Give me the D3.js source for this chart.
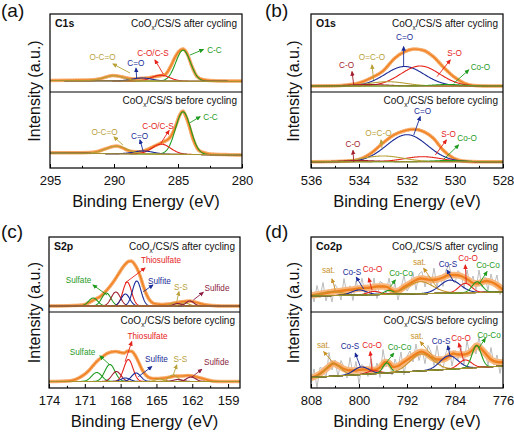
<!DOCTYPE html>
<html><head><meta charset="utf-8">
<script src="https://cdn.jsdelivr.net/npm/d3@7"></script>
<style>body{margin:0;background:#fff}svg{display:block}</style>
</head><body><svg id="c" width="514" height="433"></svg>
<script>
// ---------------- DATA ----------------
const panelTags = ['(a)','(b)','(c)','(d)'];
const coreLevels = ['C1s','O1s','S2p','Co2p'];
const sampleNames = ['after cycling','before cycling'];
const xTitle = 'Binding Energy (eV)';
const yTitle = 'Intensity (a.u.)';

const aDomain = [295,280], aTicks = [295,290,285,280], aMinor = [292.5,287.5,282.5];
const bDomain = [536,528], bTicks = [536,534,532,530,528], bMinor = [535,533,531,529];
const cDomain = [174,158], cTicks = [174,171,168,165,162,159], cMinor = [172.5,169.5,166.5,163.5,160.5];
const dDomain = [808,776], dTicks = [808,800,792,784,776], dMinor = [804,796,788,780];

// envelopes [BE, intensity]
const aTopEnv = [[295,11.5],[293,11.8],[292,12],[291.2,13],[290.6,15],[290.1,16.5],[289.5,15.5],[289,14],[288.5,13],[288,13.5],[287.5,14],[287,15],[286.5,16],[286,17.5],[285.6,25],[285.2,35.5],[284.9,41],[284.6,43],[284.3,38.7],[283.9,25.3],[283.5,15.3],[283,12.3],[282.5,11.5],[281,11],[280,11]];
const aBotEnv = [[295,15.3],[293,15.3],[292,15.5],[291.3,16.5],[290.6,19.5],[290.1,21.5],[289.8,22],[289.3,20],[289,18],[288.5,16.5],[288,16.3],[287.5,18],[287,21],[286.5,24],[286,27],[285.7,29.5],[285.5,33],[285.1,45],[284.9,52],[284.63,57],[284.4,52],[284.2,45],[283.8,28],[283.4,18],[283,15.5],[282.5,14],[281,13.3],[280,13]];
const bTopEnv = [[536,6],[535,6.2],[534.5,7],[534,9],[533.5,14],[533,21],[532.5,34],[532.1,40.3],[531.7,43],[531.3,41.5],[530.9,35.3],[530.5,25.3],[530.05,15.3],[529.6,8.7],[529.2,6.5],[528.5,6],[528,6]];
const bBotEnv = [[536,6.3],[535,6.5],[534.5,7],[534.1,8],[533.5,14.7],[533.1,23],[532.55,33],[532.1,37.3],[531.7,38.7],[531.3,36.3],[530.9,29.7],[530.5,18],[530.05,9.7],[529.6,6.8],[529,6.3],[528,6.3]];
const cTopEnv = [[174,6],[172,6.5],[171.2,7],[170.6,9.7],[170.1,13],[169.7,15.5],[169.3,20],[168.9,25.5],[168.5,32],[168.1,39.5],[167.8,45],[167.55,48.5],[167.35,50.5],[167.1,51],[166.85,48],[166.6,43],[166.35,35.5],[166.1,26],[165.85,18],[165.6,12.5],[165.3,9],[165,8],[164.5,7.5],[164,8],[163.5,9],[163,10],[162.5,10.8],[162.2,11],[161.8,10],[161.4,8.7],[161,7.5],[160.3,6.5],[159.5,6],[158,6]];
const cBotEnv = [[174,6.5],[172.5,7],[172,7.7],[171.6,9.5],[171.1,13],[170.7,17],[170.3,22.5],[170,26.5],[169.6,30.5],[169.2,34],[168.8,36],[168.4,36.5],[168,35.5],[167.7,35],[167.4,37],[167.05,36.5],[166.8,33],[166.5,26],[166.25,19.5],[166,14.5],[165.7,11],[165.3,9.5],[164.8,9.5],[164.3,10],[163.8,11],[163.4,12],[162.9,12],[162.3,12.5],[161.8,11.5],[161.3,10],[160.8,8.3],[160.2,6.8],[159.5,6.5],[158,6.5]];
const dTopEnv = [[808,16.5],[807,17.5],[806,18.5],[805,19.5],[804,20.5],[803,21],[802,22],[801,22.5],[800,23.5],[799,24],[798,24.5],[797,25.5],[796,25.5],[795.3,25],[794.6,22],[794,20.5],[793.3,21.5],[792.5,25],[791.5,28.5],[790.5,32],[789.7,33.5],[789,33],[788,32],[787,32.5],[786,34.5],[785,37],[784,37],[783,36],[782,33],[781,29],[780.3,28.5],[779.5,30],[778.8,31],[778,30],[777,27],[776,22]];
const dBotEnv = [[808,10],[807,12.5],[806,16.5],[805,21.5],[804.3,24.5],[803.5,22.5],[802.5,19],[801.5,17.5],[800.5,17.5],[799.5,18.5],[798.5,18.5],[797.5,18],[796.5,20.5],[795.6,26],[795,25],[794.3,21],[793.5,22],[792.5,26],[791.5,30],[790.5,34],[789.6,36.3],[788.8,34.5],[788,31],[787,28.5],[786,28.5],[785.3,30.5],[784.3,34.5],[783.5,33.5],[782.5,33.5],[781.7,35],[781,38.5],[780.4,42.5],[779.6,39],[779,35],[778,28.5],[777,26],[776,25.5]];

// raw (noisy) Co2p data
const dTopRaw = [[808,22.5],[807.5,10],[807,26.5],[806.5,14],[806,29.5],[805.5,11],[805,22.5],[804.5,10],[804,27.5],[803.5,22.8],[803,12],[802.5,33.5],[802,17],[801.5,26.2],[801,11.5],[800.5,31],[800,20.5],[799.5,33.8],[799,18],[798.5,25.2],[798,16.5],[797.5,34],[797,13.5],[796.5,30.5],[796,28.5],[795.5,18.3],[795,34],[794.5,17.8],[794,28.5],[793.5,12],[793,24.5],[792.5,36],[792,21],[791.5,25.5],[791,39.5],[790.5,22],[790,38],[789.5,40.5],[789,25],[788.5,36.5],[788,27],[787.5,44],[787,25.5],[786.5,36.5],[786,25.5],[785.5,42],[785,47],[784.5,33],[784,29],[783.5,41.5],[783,38],[782.5,23.5],[782,42],[781.5,28],[781,36],[780.5,22.5],[780,42],[779.5,25],[779,35],[778.5,21.8],[778,38],[777.5,26.5],[777,37],[776.5,17.5],[776,25]];
const dBotRaw = [[808,5],[807.5,19],[807,0.5],[806.5,20.5],[806,19.5],[805.5,10],[805,35.5],[804.5,18],[804,28],[803.5,11.5],[803,27.5],[802.5,21],[802,10],[801.5,30.5],[801,13.3],[800.5,26.5],[800,4],[799.5,23.5],[799,19.7],[798.5,11.5],[798,29.2],[797.5,15],[797,25],[796.5,10.5],[796,38.5],[795.5,21],[795,28],[794.5,13],[794,29],[793.5,20],[793,36],[792.5,13],[792,32],[791.5,37],[791,26],[790.5,44],[790,27.5],[789.5,38.3],[789,24.3],[788.5,42.5],[788,36],[787.5,22.5],[787,42.5],[786.5,24.3],[786,19.5],[785.5,35.5],[785,42.5],[784.5,22],[784,37.5],[783.5,28.5],[783,41.3],[782.5,23.5],[782,47],[781.5,32.5],[781,42.5],[780.5,34],[780,51.5],[779.5,32.5],[779,37],[778.5,22.5],[778,40.5],[777.5,23],[777,33],[776.5,14.5],[776,30.5]];

// backgrounds (two end points)
const aTopBg = [[295,11.5],[280,10.5]], aBotBg = [[295,15],[280,13]];
const bTopBg = [[536,6],[528,6]], bBotBg = [[536,6.3],[528,6.3]];
const cTopBg = [[174,6],[158,6]], cBotBg = [[174,6.5],[158,6.5]];
const dTopBg = [[808,16],[776,20]], dBotBg = [[808,10.5],[776,22]];

// fitted peaks: centre (eV), height, FWHM (eV)
const aTopPeaks = [{k:'green',c:284.6,h:31,w:1.35},{k:'red',c:286.35,h:6,w:1.6},{k:'blue',c:287.8,h:3,w:1.8},{k:'olive',c:290.0,h:5,w:1.9}];
const aBotPeaks = [{k:'green',c:284.6,h:42.5,w:1.4},{k:'red',c:286.3,h:10,w:1.7},{k:'blue',c:287.7,h:3,w:1.8},{k:'olive',c:289.8,h:7.5,w:2.0}];
const bTopPeaks = [{k:'blue',c:532.1,h:19.5,w:1.9},{k:'red',c:531.45,h:20,w:1.9},{k:'olive',c:532.8,h:4.3,w:1.8},{k:'darkred',c:533.6,h:1.5,w:1.8},{k:'green',c:530.3,h:1.5,w:1.4}];
const bBotPeaks = [{k:'blue',c:532.0,h:27,w:2.0},{k:'red',c:531.35,h:5,w:1.8},{k:'olive',c:533.0,h:5.7,w:2.0},{k:'darkred',c:534.0,h:1.2,w:1.6},{k:'green',c:530.3,h:1.2,w:1.4}];
const cTopPeaks = [{k:'green',c:170.3,h:8,w:0.9},{k:'green',c:169.2,h:13,w:0.9},{k:'darkred',c:168.4,h:14,w:0.9},{k:'red',c:167.45,h:24,w:0.85},{k:'blue',c:167.6,h:12,w:0.85},{k:'blue',c:166.65,h:25,w:0.85},{k:'olive',c:163.5,h:2.7,w:0.8},{k:'olive',c:162.6,h:3,w:0.8},{k:'brown',c:163.2,h:2.5,w:0.8},{k:'brown',c:162.2,h:5,w:0.8}];
const cBotPeaks = [{k:'green',c:170.0,h:9,w:1.0},{k:'green',c:168.9,h:17,w:1.0},{k:'darkred',c:168.35,h:10,w:0.9},{k:'red',c:167.35,h:22,w:0.9},{k:'blue',c:167.6,h:3.5,w:0.9},{k:'blue',c:166.7,h:8.5,w:0.9},{k:'olive',c:164.7,h:2.5,w:0.9},{k:'olive',c:163.6,h:6.5,w:0.9},{k:'brown',c:163.2,h:2,w:0.9},{k:'brown',c:162.1,h:4.5,w:0.9}];
const dTopPeaks = [{k:'sat',c:804.5,h:4,w:4},{k:'blue',c:800.0,h:5,w:3},{k:'red',c:797.5,h:3.3,w:2.5},{k:'green',c:795.0,h:4,w:1.8},{k:'sat',c:789.8,h:12,w:5},{k:'blue',c:784.8,h:13,w:4},{k:'red',c:782.3,h:9.4,w:2.5},{k:'green',c:780.3,h:10.8,w:2}];
const dBotPeaks = [{k:'sat',c:804.3,h:12.5,w:3},{k:'blue',c:799.6,h:7.5,w:3},{k:'red',c:797.6,h:3,w:2.5},{k:'green',c:795.4,h:10,w:1.5},{k:'sat',c:789.6,h:17,w:4.5},{k:'blue',c:785.0,h:13.5,w:3.5},{k:'red',c:782.3,h:8.3,w:2.5},{k:'green',c:780.4,h:22,w:1.8}];

// annotations in data units: label centre, arrow from -> to
const aTopNotes = [
 {t:'O-C=O',k:'olive',at:[290.9,34.7],from:[288.75,19],to:[290.08,28]},
 {t:'C=O',k:'blue',at:[288.3,28.7],from:[288.23,13.7],to:[288.28,23.7]},
 {t:'C-O/C-S',k:'red',at:[286.95,38.7],from:[286.15,18],to:[286.8,32]},
 {t:'C-C',k:'green',at:[282.15,42],from:[284.06,37],to:[283.02,42.5]}];
const aBotNotes = [
 {t:'O-C=O',k:'olive',at:[290.74,35.7],from:[289.3,23],to:[290.0,31]},
 {t:'C=O',k:'blue',at:[288.0,32],from:[287.71,16.3],to:[287.97,28]},
 {t:'C-O/C-S',k:'red',at:[286.56,42],from:[286.33,25],to:[285.7,37.5]},
 {t:'C-C',k:'green',at:[282.46,51.3],from:[284.06,45.3],to:[283.28,51.3]}];
const bTopNotes = [
 {t:'C=O',k:'blue',at:[532.1,54.7],from:[532.14,25.3],to:[532.14,45.3]},
 {t:'O=C-O',k:'olive',at:[533.46,34.7],from:[533.39,12],to:[533.46,27]},
 {t:'C-O',k:'darkred',at:[534.52,27],from:[534.22,7],to:[534.29,20.3]},
 {t:'S-O',k:'red',at:[530.02,38.7],from:[530.75,15.3],to:[530.2,32]},
 {t:'Co-O',k:'green',at:[528.94,25.3],from:[530.05,8.7],to:[529.43,22]}];
const bBotNotes = [
 {t:'C=O',k:'blue',at:[531.35,57.3],from:[531.72,33],to:[531.45,51.3]},
 {t:'O=C-O',k:'olive',at:[533.19,34.7],from:[533.04,19.7],to:[533.08,28]},
 {t:'C-O',k:'darkred',at:[534.25,24],from:[534.22,6],to:[534.25,17.5]},
 {t:'S-O',k:'red',at:[530.27,34],from:[530.82,13],to:[530.36,28]},
 {t:'Co-O',k:'green',at:[529.5,29.7],from:[530.47,8.7],to:[529.85,23]}];
const cTopNotes = [
 {t:'Thiosulfate',k:'red',at:[164.62,52],from:[167.63,29],to:[165.96,44]},
 {t:'Sulfite',k:'blue',at:[164.75,30.5],from:[166.1,20.3],to:[165.3,27]},
 {t:'Sulfate',k:'green',at:[171.53,32],from:[169.14,17],to:[170.31,27]},
 {t:'S-S',k:'olive',at:[162.95,25],from:[163.3,10.3],to:[163.11,20.3]},
 {t:'Sulfide',k:'brown',at:[159.93,24],from:[161.91,12],to:[161.08,19.7]}];
const cBotNotes = [
 {t:'Thiosulfate',k:'red',at:[165.75,52],from:[167.63,26.3],to:[167.07,46.3]},
 {t:'Sulfate',k:'green',at:[171.19,36],from:[168.89,23],to:[169.73,32]},
 {t:'Sulfite',k:'blue',at:[165.0,29],from:[166.52,11.3],to:[165.4,21.3]},
 {t:'S-S',k:'olive',at:[163.0,29],from:[163.59,13],to:[163.3,23]},
 {t:'Sulfide',k:'brown',at:[159.97,26],from:[162.05,10.7],to:[161.21,18.7]}];
const dTopNotes = [
 {t:'sat.',k:'sat',at:[805.08,42],from:[803.95,22],to:[804.5,33]},
 {t:'Co-S',k:'blue',at:[801.17,40.3],from:[799.22,23],to:[800.45,34.7]},
 {t:'Co-O',k:'red',at:[797.75,42.7],from:[797.83,22],to:[798.38,33.7]},
 {t:'Co-Co',k:'green',at:[793.0,38.7],from:[794.78,25.3],to:[793.95,32]},
 {t:'sat.',k:'sat',at:[789.92,49.7],from:[786.72,22],to:[789.22,43.7]},
 {t:'Co-S',k:'blue',at:[785.17,47.7],from:[784.22,30.3],to:[785.33,42]},
 {t:'Co-O',k:'red',at:[781.83,54.3],from:[782.12,28.7],to:[782.28,47]},
 {t:'Co-Co',k:'green',at:[778.5,47],from:[780.05,27.7],to:[778.67,40.3]}];
const dBotNotes = [
 {t:'sat.',k:'sat',at:[805.92,43],from:[804.22,24.7],to:[805.88,36.3]},
 {t:'Co-S',k:'blue',at:[801.5,42],from:[799.78,21.3],to:[800.62,34.7]},
 {t:'Co-O',k:'red',at:[797.83,43],from:[797.83,18],to:[798.12,36.3]},
 {t:'Co-Co',k:'green',at:[793.25,41.3],from:[796.17,19.7],to:[794.22,34.7]},
 {t:'sat.',k:'sat',at:[790.33,52],from:[786.72,24.7],to:[789.78,46.3]},
 {t:'Co-S',k:'blue',at:[786.33,47.3],from:[784.78,31.3],to:[785.22,42]},
 {t:'Co-O',k:'red',at:[783.0,49.7],from:[782.55,27.3],to:[783.38,44.7]},
 {t:'Co-Co',k:'green',at:[778.33,53],from:[780.05,39.7],to:[778.95,49.7]}];

// ---------------- STYLE / LAYOUT ----------------
const FONT = "'Liberation Sans', Arial, Helvetica, sans-serif";
const COL = {green:'#1f9b1f', red:'#e5231b', blue:'#1a2b97', olive:'#b9a13a', darkred:'#a31f2e',
  brown:'#8b1d40', sat:'#c8922a', env:'#ef7f1d', envLight:'#f8b67c', dot:'#f6a35e', raw:'#b4b4b4', bg:'#a8922e'};

const panels = [
 {x0:50, x1:242, top:14, mid:92, bot:168, dom:aDomain, ticks:aTicks, minor:aMinor, tagX:1, tagY:17, yTitleX:39.5, dots:true,
  subs:[{env:aTopEnv,bg:aTopBg,peaks:aTopPeaks,notes:aTopNotes},{env:aBotEnv,bg:aBotBg,peaks:aBotPeaks,notes:aBotNotes}]},
 {x0:311, x1:503, top:14, mid:92, bot:168, dom:bDomain, ticks:bTicks, minor:bMinor, tagX:265, tagY:17, yTitleX:298.5, dots:true,
  subs:[{env:bTopEnv,bg:bTopBg,peaks:bTopPeaks,notes:bTopNotes},{env:bBotEnv,bg:bBotBg,peaks:bBotPeaks,notes:bBotNotes}]},
 {x0:49, x1:240, top:237, mid:312, bot:388, dom:cDomain, ticks:cTicks, minor:cMinor, tagX:1, tagY:238, yTitleX:39.5, dots:true,
  subs:[{env:cTopEnv,bg:cTopBg,peaks:cTopPeaks,notes:cTopNotes},{env:cBotEnv,bg:cBotBg,peaks:cBotPeaks,notes:cBotNotes}]},
 {x0:311, x1:503, top:237, mid:312, bot:388, dom:dDomain, ticks:dTicks, minor:dMinor, tagX:265, tagY:238, yTitleX:298.5, dots:false,
  subs:[{env:dTopEnv,bg:dTopBg,peaks:dTopPeaks,notes:dTopNotes,raw:dTopRaw},{env:dBotEnv,bg:dBotBg,peaks:dBotPeaks,notes:dBotNotes,raw:dBotRaw}]}
];

// ---------------- DRAW ----------------
const svg = d3.select('#c');
svg.append('rect').attr('width',514).attr('height',433).attr('fill','#fff');
const defs = svg.append('defs');
Object.keys(COL).forEach(k => {
  defs.append('marker').attr('id','m-'+k).attr('viewBox','0 0 10 10').attr('refX',8).attr('refY',5)
    .attr('markerWidth',5).attr('markerHeight',5).attr('markerUnits','userSpaceOnUse').attr('orient','auto')
    .append('path').attr('d','M0,0.5 L10,5 L0,9.5 z').attr('fill',COL[k]);
});

function coText(g, xr, yb, suffix){
  const t = g.append('text').attr('x',xr).attr('y',yb).attr('text-anchor','end')
    .attr('font-size',10).attr('font-family',FONT).attr('fill','#111');
  t.append('tspan').text('CoO');
  t.append('tspan').attr('font-size',6.5).attr('dy',2.5).text('x');
  t.append('tspan').attr('dy',-2.5).text('/CS/S ' + suffix);
}

panels.forEach((P, pi) => {
  const g = svg.append('g');
  const x = d3.scaleLinear().domain(P.dom).range([P.x0, P.x1]);
  const bands = [[P.top, P.mid],[P.mid, P.bot]];
  const lo = d3.min(P.dom), hi = d3.max(P.dom), step = (hi-lo)/500;
  const samples = d3.range(lo, hi + step/2, step);

  P.subs.forEach((S, si) => {
    const [t, b] = bands[si];
    const y = d3.scaleLinear().domain([0, b - t]).range([b, t]);
    const clipId = 'clip-'+pi+'-'+si;
    defs.append('clipPath').attr('id',clipId).append('rect')
      .attr('x',P.x0).attr('y',t).attr('width',P.x1-P.x0).attr('height',b-t);
    const cg = g.append('g').attr('clip-path','url(#'+clipId+')');
    const line = d3.line().x(d => x(d[0])).y(d => y(d[1]));
    const envLine = d3.line().x(d => x(d[0])).y(d => y(d[1])).curve(d3.curveMonotoneX);

    if (S.raw) cg.append('path').attr('d', line(S.raw)).attr('fill','none')
      .attr('stroke',COL.raw).attr('stroke-width',0.9);

    const halo = cg.append('path').attr('d', envLine(S.env)).attr('fill','none')
      .attr('stroke',COL.envLight).attr('stroke-width', P.dots ? 3.5 : 6.5).attr('stroke-linejoin','round');
    if (P.dots) {
      const node = halo.node(), L = node.getTotalLength();
      for (let s = 0; s <= L; s += 2.6) {
        const pt = node.getPointAtLength(s);
        cg.append('circle').attr('cx',pt.x).attr('cy',pt.y).attr('r',1.6).attr('fill',COL.dot);
      }
    }
    cg.append('path').attr('d', envLine(S.env)).attr('fill','none')
      .attr('stroke',COL.env).attr('stroke-width', P.dots ? 1.2 : 2.3);

    const bgf = d3.scaleLinear().domain([S.bg[0][0], S.bg[1][0]]).range([S.bg[0][1], S.bg[1][1]]);
    S.peaks.forEach(p => {
      const pts = samples.map(v => [v, bgf(v) + p.h*Math.exp(-4*Math.LN2*(v-p.c)*(v-p.c)/(p.w*p.w))]);
      cg.append('path').attr('d', line(pts)).attr('fill','none')
        .attr('stroke', COL[p.k]).attr('stroke-width',1.1);
    });
    cg.append('path').attr('d', line(S.bg)).attr('fill','none').attr('stroke',COL.bg).attr('stroke-width',1);

    S.notes.forEach(n => {
      g.append('line').attr('x1',x(n.from[0])).attr('y1',y(n.from[1]))
        .attr('x2',x(n.to[0])).attr('y2',y(n.to[1]))
        .attr('stroke',COL[n.k]).attr('stroke-width',0.9).attr('marker-end','url(#m-'+n.k+')');
      g.append('text').attr('x',x(n.at[0])).attr('y',y(n.at[1])).attr('dy','0.35em')
        .attr('text-anchor','middle').attr('font-size',8.2).attr('font-family',FONT)
        .attr('fill',COL[n.k]).text(n.t);
    });

    coText(g, P.x1 - 5, t + (si === 0 ? 13 : 12), sampleNames[si]);
  });

  // frame & divider
  g.append('rect').attr('x',P.x0).attr('y',P.top).attr('width',P.x1-P.x0).attr('height',P.bot-P.top)
    .attr('fill','none').attr('stroke','#000').attr('stroke-width',1.2);
  g.append('line').attr('x1',P.x0).attr('x2',P.x1).attr('y1',P.mid).attr('y2',P.mid)
    .attr('stroke','#000').attr('stroke-width',1.2);

  // axes
  const ax = g.append('g').attr('transform','translate(0,'+P.bot+')')
    .call(d3.axisBottom(x).tickValues(P.ticks).tickSize(-4).tickPadding(7.5).tickFormat(d3.format('d')));
  ax.select('.domain').remove();
  ax.selectAll('text').attr('font-size',13).attr('font-family',FONT).attr('fill','#111');
  ax.selectAll('line').attr('stroke','#000').attr('stroke-width',1);
  const mx = g.append('g').attr('transform','translate(0,'+P.bot+')')
    .call(d3.axisBottom(x).tickValues(P.minor).tickSize(-2.2).tickFormat(''));
  mx.select('.domain').remove();
  mx.selectAll('line').attr('stroke','#000').attr('stroke-width',1);

  // titles
  g.append('text').attr('x',(P.x0+P.x1)/2).attr('y',P.bot+39).attr('text-anchor','middle')
    .attr('font-size',16.5).attr('font-family',FONT).attr('fill','#111').text(xTitle);
  g.append('text').attr('transform','translate('+P.yTitleX+','+((P.top+P.bot)/2)+') rotate(-90)')
    .attr('text-anchor','middle').attr('font-size',16).attr('font-family',FONT).attr('fill','#111').text(yTitle);
  g.append('text').attr('x',P.tagX).attr('y',P.tagY).attr('font-size',19).attr('font-family',FONT)
    .attr('fill','#111').text(panelTags[pi]);
  g.append('text').attr('x',P.x0+5).attr('y',P.top+13).attr('font-size',10.5).attr('font-weight','bold')
    .attr('font-family',FONT).attr('fill','#111').text(coreLevels[pi]);
});
</script></body></html>
